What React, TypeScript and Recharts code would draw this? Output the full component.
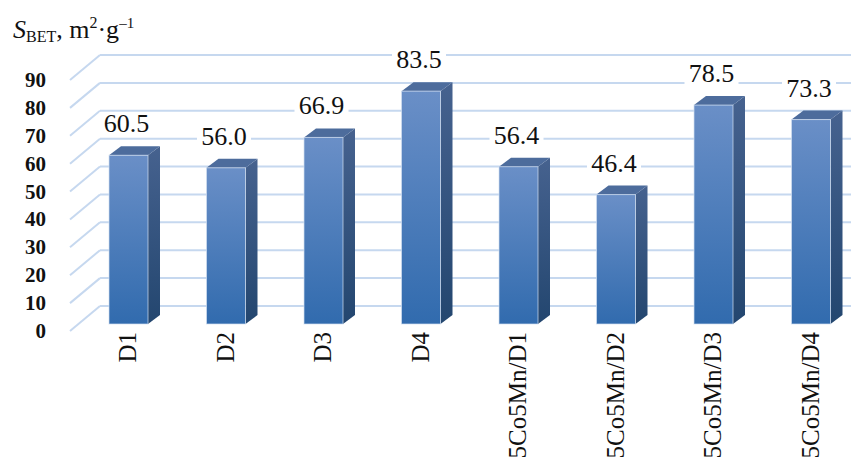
import { Bar, BarChart, CartesianGrid, XAxis, YAxis } from "recharts";

// specific surface area per sample
const samples = ["D1", "D2", "D3", "D4", "5Co5Mn/D1", "5Co5Mn/D2", "5Co5Mn/D3", "5Co5Mn/D4"];
const sBet = [60.5, 56.0, 66.9, 83.5, 56.4, 46.4, 78.5, 73.3];
const yTicks = [0, 10, 20, 30, 40, 50, 60, 70, 80, 90];

const data = samples.map((name, i) => ({ name, sBet: sBet[i] }));

const SERIF = "'Liberation Serif', 'Times New Roman', serif";
const GRID = "#c6d8ef";

// depth of the bar box and of the back wall relative to the bar plane
const BAR_DX = 12;
const BAR_DY = -9;
const WALL_FRONT_X = 70;
const WALL_BACK_X = 100;
const FRONT_SHIFT = 7;
const BACK_SHIFT = -18;

function Box3D(props: any) {
  const { x, y, width: w, height: h, value } = props;
  const v = Array.isArray(value) ? value[1] : value;
  const label = Number(v).toFixed(1);
  const cx = x + w / 2 - 2;
  const ly = y - 23;
  return (
    <g>
      <polygon
        points={`${x + w},${y} ${x + w + BAR_DX},${y + BAR_DY} ${x + w + BAR_DX},${y + h + BAR_DY} ${x + w},${y + h}`}
        fill="url(#sideFill)"
      />
      <polygon
        points={`${x},${y} ${x + BAR_DX},${y + BAR_DY} ${x + w + BAR_DX},${y + BAR_DY} ${x + w},${y}`}
        fill="#4d6c9c"
      />
      <rect x={x} y={y} width={w} height={h} fill="url(#frontFill)" stroke="#d3e0f1" strokeWidth={1} strokeOpacity={0.7} />
      <rect x={cx - 27} y={ly - 20} width={54} height={24} fill="#fff" />
      <text x={cx} y={ly} textAnchor="middle" fontFamily={SERIF} fontSize={26} fill="#111">
        {label}
      </text>
    </g>
  );
}

function WallLine(props: any) {
  const { y1, x2, index } = props;
  return (
    <g key={`wall-${index}`}>
      <line x1={WALL_BACK_X} y1={y1 + BACK_SHIFT} x2={x2} y2={y1 + BACK_SHIFT} stroke={GRID} strokeWidth={2} />
      <line x1={WALL_FRONT_X} y1={y1 + FRONT_SHIFT} x2={WALL_BACK_X} y2={y1 + BACK_SHIFT} stroke={GRID} strokeWidth={2} />
    </g>
  );
}

function YTick(props: any) {
  const { y, payload } = props;
  return (
    <text x={46} y={y + FRONT_SHIFT} textAnchor="end" dominantBaseline="central" fontFamily={SERIF} fontWeight="bold" fontSize={21} fill="#111">
      {payload.value}
    </text>
  );
}

function XTick(props: any) {
  const { x, payload } = props;
  return (
    <text
      transform={`translate(${x - 1},332) rotate(-90)`}
      textAnchor="end"
      dominantBaseline="central"
      fontFamily={SERIF}
      fontSize={25}
      fill="#111"
    >
      {payload.value}
    </text>
  );
}

export default function App() {
  return (
    <div style={{ position: "fixed", left: 0, top: 0, width: 851, height: 463, overflow: "hidden", background: "#fff" }}>
      <BarChart width={862} height={463} data={data} margin={{ top: 73, right: 2, bottom: 0, left: 0 }}>
        <defs>
          <linearGradient id="frontFill" x1="0" y1="0" x2="0" y2="1">
            <stop offset="0%" stopColor="#6a8fc7" />
            <stop offset="100%" stopColor="#316bae" />
          </linearGradient>
          <linearGradient id="sideFill" x1="0" y1="0" x2="0" y2="1">
            <stop offset="0%" stopColor="#46628f" />
            <stop offset="100%" stopColor="#23466f" />
          </linearGradient>
        </defs>
        <CartesianGrid vertical={false} horizontal={(p: any) => <WallLine {...p} />} />
        <XAxis dataKey="name" height={139} interval={0} axisLine={false} tickLine={false} tick={<XTick />} />
        <YAxis width={80} domain={[0, 90]} ticks={yTicks} axisLine={false} tickLine={false} tick={<YTick />} />
        <Bar dataKey="sBet" barSize={39} shape={<Box3D />} isAnimationActive={false} />
      </BarChart>
      <svg width={200} height={50} style={{ position: "absolute", left: 0, top: 0 }}>
        <text x={13} y={38} fontFamily={SERIF} fontSize={26} fill="#111">
          <tspan fontStyle="italic">S</tspan>
          <tspan fontSize={16} dy={4}>BET</tspan>
          <tspan dy={-4}>, m</tspan>
          <tspan fontSize={16} dy={-10}>2</tspan>
          <tspan dy={10}>·g</tspan>
          <tspan fontSize={15} dy={-10}>–1</tspan>
        </text>
      </svg>
    </div>
  );
}
